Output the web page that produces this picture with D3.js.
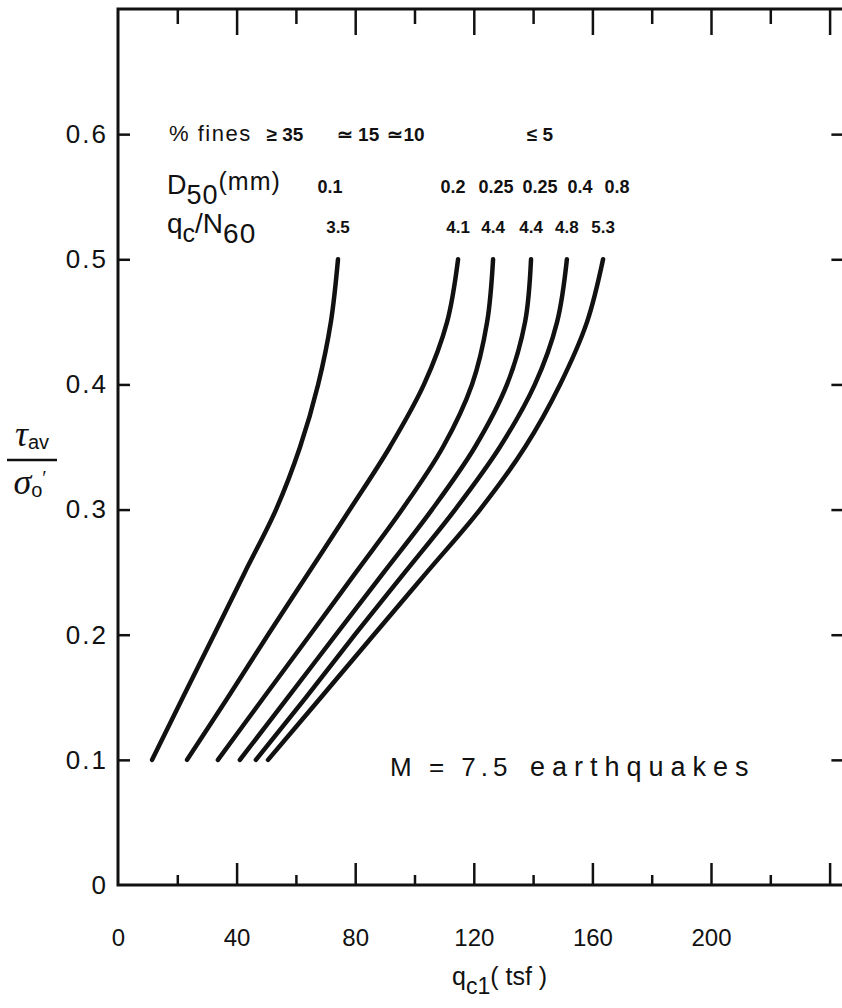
<!DOCTYPE html>
<html>
<head>
<meta charset="utf-8">
<script src="https://cdn.jsdelivr.net/npm/d3@7"></script>
<style>
  body { margin: 0; background: #fff; }
  svg { display: block; }
  text { font-family: "Liberation Sans", Arial, sans-serif; fill: #111; }
</style>
</head>
<body>
<div id="chart"></div>
<script>
// stress ratio levels where each curve is read (tau_av / sigma_o')
var csrLevels = [0.1, 0.15, 0.2, 0.25, 0.3, 0.35, 0.4, 0.45, 0.5];

// q_c1 (tsf) of each curve at those levels
var qcFines35 = [11.5, 21.9, 32.4, 42.8, 53.3, 61.4, 67.5, 71.8, 74.2];
var qcFines15 = [23.3, 37.1, 50.6, 64.4, 78.2, 91.7, 103.2, 111.0, 114.7];
var qcFines10 = [33.7, 49.2, 64.8, 80.3, 95.8, 109.6, 119.4, 124.5, 126.5];
var qcD025 = [41.1, 57.3, 73.5, 89.7, 105.9, 120.4, 131.2, 137.3, 139.3];
var qcD04 = [46.5, 63.4, 79.9, 96.8, 113.7, 128.8, 140.6, 148.1, 151.4];
var qcD08 = [50.6, 68.5, 86.3, 104.2, 122.1, 137.3, 149.1, 158.2, 163.6];

var finesLabels = ["\u2265 35", "\u2243 15", "\u224310", "\u2264 5"];
var d50Labels = ["0.1", "0.2", "0.25", "0.25", "0.4", "0.8"];
var qcnLabels = ["3.5", "4.1", "4.4", "4.4", "4.8", "5.3"];

var xTickLabels = [0, 40, 80, 120, 160, 200];
var xMinorTicks = [20, 60, 100, 140, 180, 220];
var xMajorTicks = [40, 80, 120, 160, 200, 240];
var yTickLabels = [0, 0.1, 0.2, 0.3, 0.4, 0.5, 0.6];

var curves = [qcFines35, qcFines15, qcFines10, qcD025, qcD04, qcD08];

var width = 842, height = 1008;

// plot frame runs off the right edge of the page, like the scan
var xMax = 246;
var x = d3.scaleLinear().domain([0, xMax]).range([118, 118 + xMax * 2.965]);
var y = d3.scaleLinear().domain([0, 0.7]).range([885, 9]);

var svg = d3.select("#chart")
  .append("svg")
  .attr("width", width)
  .attr("height", height);

// frame
svg.append("path")
  .attr("d", "M" + x(xMax) + "," + y(0.7) + " L" + x(0) + "," + y(0.7) +
    " L" + x(0) + "," + y(0) + " L" + x(xMax) + "," + y(0))
  .attr("fill", "none")
  .attr("stroke", "#111")
  .attr("stroke-width", 3);

// bottom ticks (pointing in)
svg.append("g")
  .attr("transform", "translate(0," + y(0) + ")")
  .call(d3.axisBottom(x).tickValues(xMajorTicks).tickSizeInner(-22).tickSizeOuter(0).tickFormat(""))
  .call(g => g.select(".domain").remove());
svg.append("g")
  .attr("transform", "translate(0," + y(0) + ")")
  .call(d3.axisBottom(x).tickValues(xMinorTicks).tickSizeInner(-10).tickSizeOuter(0).tickFormat(""))
  .call(g => g.select(".domain").remove());

// bottom labels
svg.append("g")
  .attr("transform", "translate(0," + y(0) + ")")
  .call(d3.axisBottom(x).tickValues(xTickLabels).tickSize(0).tickPadding(44).tickFormat(d3.format("d")))
  .call(g => g.select(".domain").remove())
  .selectAll("text")
  .style("font-size", "24px")
  .style("font-family", "'Liberation Sans', Arial, sans-serif")
  .attr("fill", "#111");

// top ticks (pointing in)
svg.append("g")
  .attr("transform", "translate(0," + y(0.7) + ")")
  .call(d3.axisTop(x).tickValues(xMajorTicks).tickSizeInner(-26).tickSizeOuter(0).tickFormat(""))
  .call(g => g.select(".domain").remove());
svg.append("g")
  .attr("transform", "translate(0," + y(0.7) + ")")
  .call(d3.axisTop(x).tickValues(xMinorTicks).tickSizeInner(-15).tickSizeOuter(0).tickFormat(""))
  .call(g => g.select(".domain").remove());

// left axis
svg.append("g")
  .attr("transform", "translate(" + x(0) + ",0)")
  .call(d3.axisLeft(y).tickValues(yTickLabels).tickSizeInner(-12).tickSizeOuter(0).tickPadding(10)
    .tickFormat(d => d === 0 ? "0" : d3.format(".1f")(d)))
  .call(g => g.select(".domain").remove())
  .call(g => g.selectAll("line").filter(d => d === 0).remove())
  .selectAll("text")
  .style("font-size", "26px")
  .style("letter-spacing", "2px")
  .style("font-family", "'Liberation Sans', Arial, sans-serif")
  .attr("fill", "#111");

// right ticks
svg.append("g")
  .attr("transform", "translate(" + x(xMax) + ",0)")
  .call(d3.axisRight(y).tickValues(yTickLabels.slice(1)).tickSizeInner(-16).tickSizeOuter(0).tickFormat(""))
  .call(g => g.select(".domain").remove());

svg.selectAll(".tick line")
  .attr("stroke", "#111")
  .attr("stroke-width", 2.5);

// curves
var line = d3.line()
  .x(d => x(d[0]))
  .y(d => y(d[1]))
  .curve(d3.curveCatmullRom.alpha(0.5));

svg.selectAll("path.curve")
  .data(curves)
  .enter()
  .append("path")
  .attr("class", "curve")
  .attr("d", c => line(c.map((q, i) => [q, csrLevels[i]])))
  .attr("fill", "none")
  .attr("stroke", "#111")
  .attr("stroke-width", 4.5)
  .attr("stroke-linecap", "round");

// header rows above curves
var header = svg.append("g").style("font-weight", "bold");

header.append("text")
  .attr("x", 169).attr("y", 141)
  .style("font-size", "22px").style("font-weight", "normal")
  .style("letter-spacing", "1.5px")
  .text("% fines");

var finesX = [285, 358, 406, 540];
header.selectAll("text.fines")
  .data(finesLabels)
  .enter().append("text")
  .attr("class", "fines")
  .attr("x", (d, i) => finesX[i])
  .attr("y", 141)
  .attr("text-anchor", "middle")
  .style("font-size", "19px")
  .text(d => d);

var d50 = header.append("text")
  .attr("x", 167).attr("y", 194)
  .style("font-size", "27px").style("font-weight", "normal");
d50.append("tspan").text("D");
d50.append("tspan").attr("dy", 10).style("letter-spacing", "1px").text("50");
d50.append("tspan").attr("dy", -14).style("font-size", "25px").style("letter-spacing", "1px").text("(mm)");

var d50X = [330, 453, 496, 540, 580, 617];
header.selectAll("text.d50")
  .data(d50Labels)
  .enter().append("text")
  .attr("class", "d50")
  .attr("x", (d, i) => d50X[i])
  .attr("y", 193)
  .attr("text-anchor", "middle")
  .style("font-size", "18px")
  .text(d => d);

var qcn = header.append("text")
  .attr("x", 167).attr("y", 233)
  .style("font-size", "28px").style("font-weight", "normal");
qcn.append("tspan").text("q");
qcn.append("tspan").attr("dy", 9).style("font-size", "25px").text("c");
qcn.append("tspan").attr("dy", -9).text("/N");
qcn.append("tspan").attr("dy", 10).style("letter-spacing", "1px").text("60");

header.selectAll("text.qcn")
  .data(qcnLabels)
  .enter().append("text")
  .attr("class", "qcn")
  .attr("x", (d, i) => x(curves[i][curves[i].length - 1]))
  .attr("y", 233)
  .attr("text-anchor", "middle")
  .style("font-size", "17px")
  .text(d => d);

// magnitude note
var note = svg.append("text")
  .attr("x", 390).attr("y", 776)
  .style("font-size", "26px");
note.append("tspan").style("letter-spacing", "5px").text("M = 7.5");
note.append("tspan").attr("x", 530).style("font-size", "27px")
  .style("letter-spacing", "7px").text("earthquakes");

// x axis title
var xt = svg.append("text")
  .attr("x", 452).attr("y", 985)
  .style("font-size", "25px");
xt.append("tspan").text("q");
xt.append("tspan").attr("dy", 9).style("font-size", "23px").text("c1");
xt.append("tspan").attr("dy", -9).text("( tsf )");

// y axis title: tau_av over sigma_o'
var yl = svg.append("g").attr("transform", "translate(32,0)");
var numer = yl.append("text")
  .attr("x", 0).attr("y", 446)
  .attr("text-anchor", "middle")
  .style("font-family", "'Liberation Serif', serif")
  .style("font-style", "italic")
  .style("font-size", "36px");
numer.append("tspan").text("\u03c4");
numer.append("tspan").attr("dy", 3).style("font-size", "20px")
  .style("font-family", "'Liberation Sans', Arial, sans-serif").style("font-style", "normal").text("av");
yl.append("line")
  .attr("x1", -25).attr("x2", 25)
  .attr("y1", 460).attr("y2", 460)
  .attr("stroke", "#111").attr("stroke-width", 2.5);
var denom = yl.append("text")
  .attr("x", -2).attr("y", 494)
  .attr("text-anchor", "middle")
  .style("font-family", "'Liberation Serif', serif")
  .style("font-style", "italic")
  .style("font-size", "36px");
denom.append("tspan").text("\u03c3");
denom.append("tspan").attr("dy", 3).style("font-size", "20px")
  .style("font-family", "'Liberation Sans', Arial, sans-serif").style("font-style", "normal").text("o");
denom.append("tspan").attr("dy", -12).style("font-size", "20px").style("font-style", "normal").text("\u2032");
</script>
</body>
</html>
